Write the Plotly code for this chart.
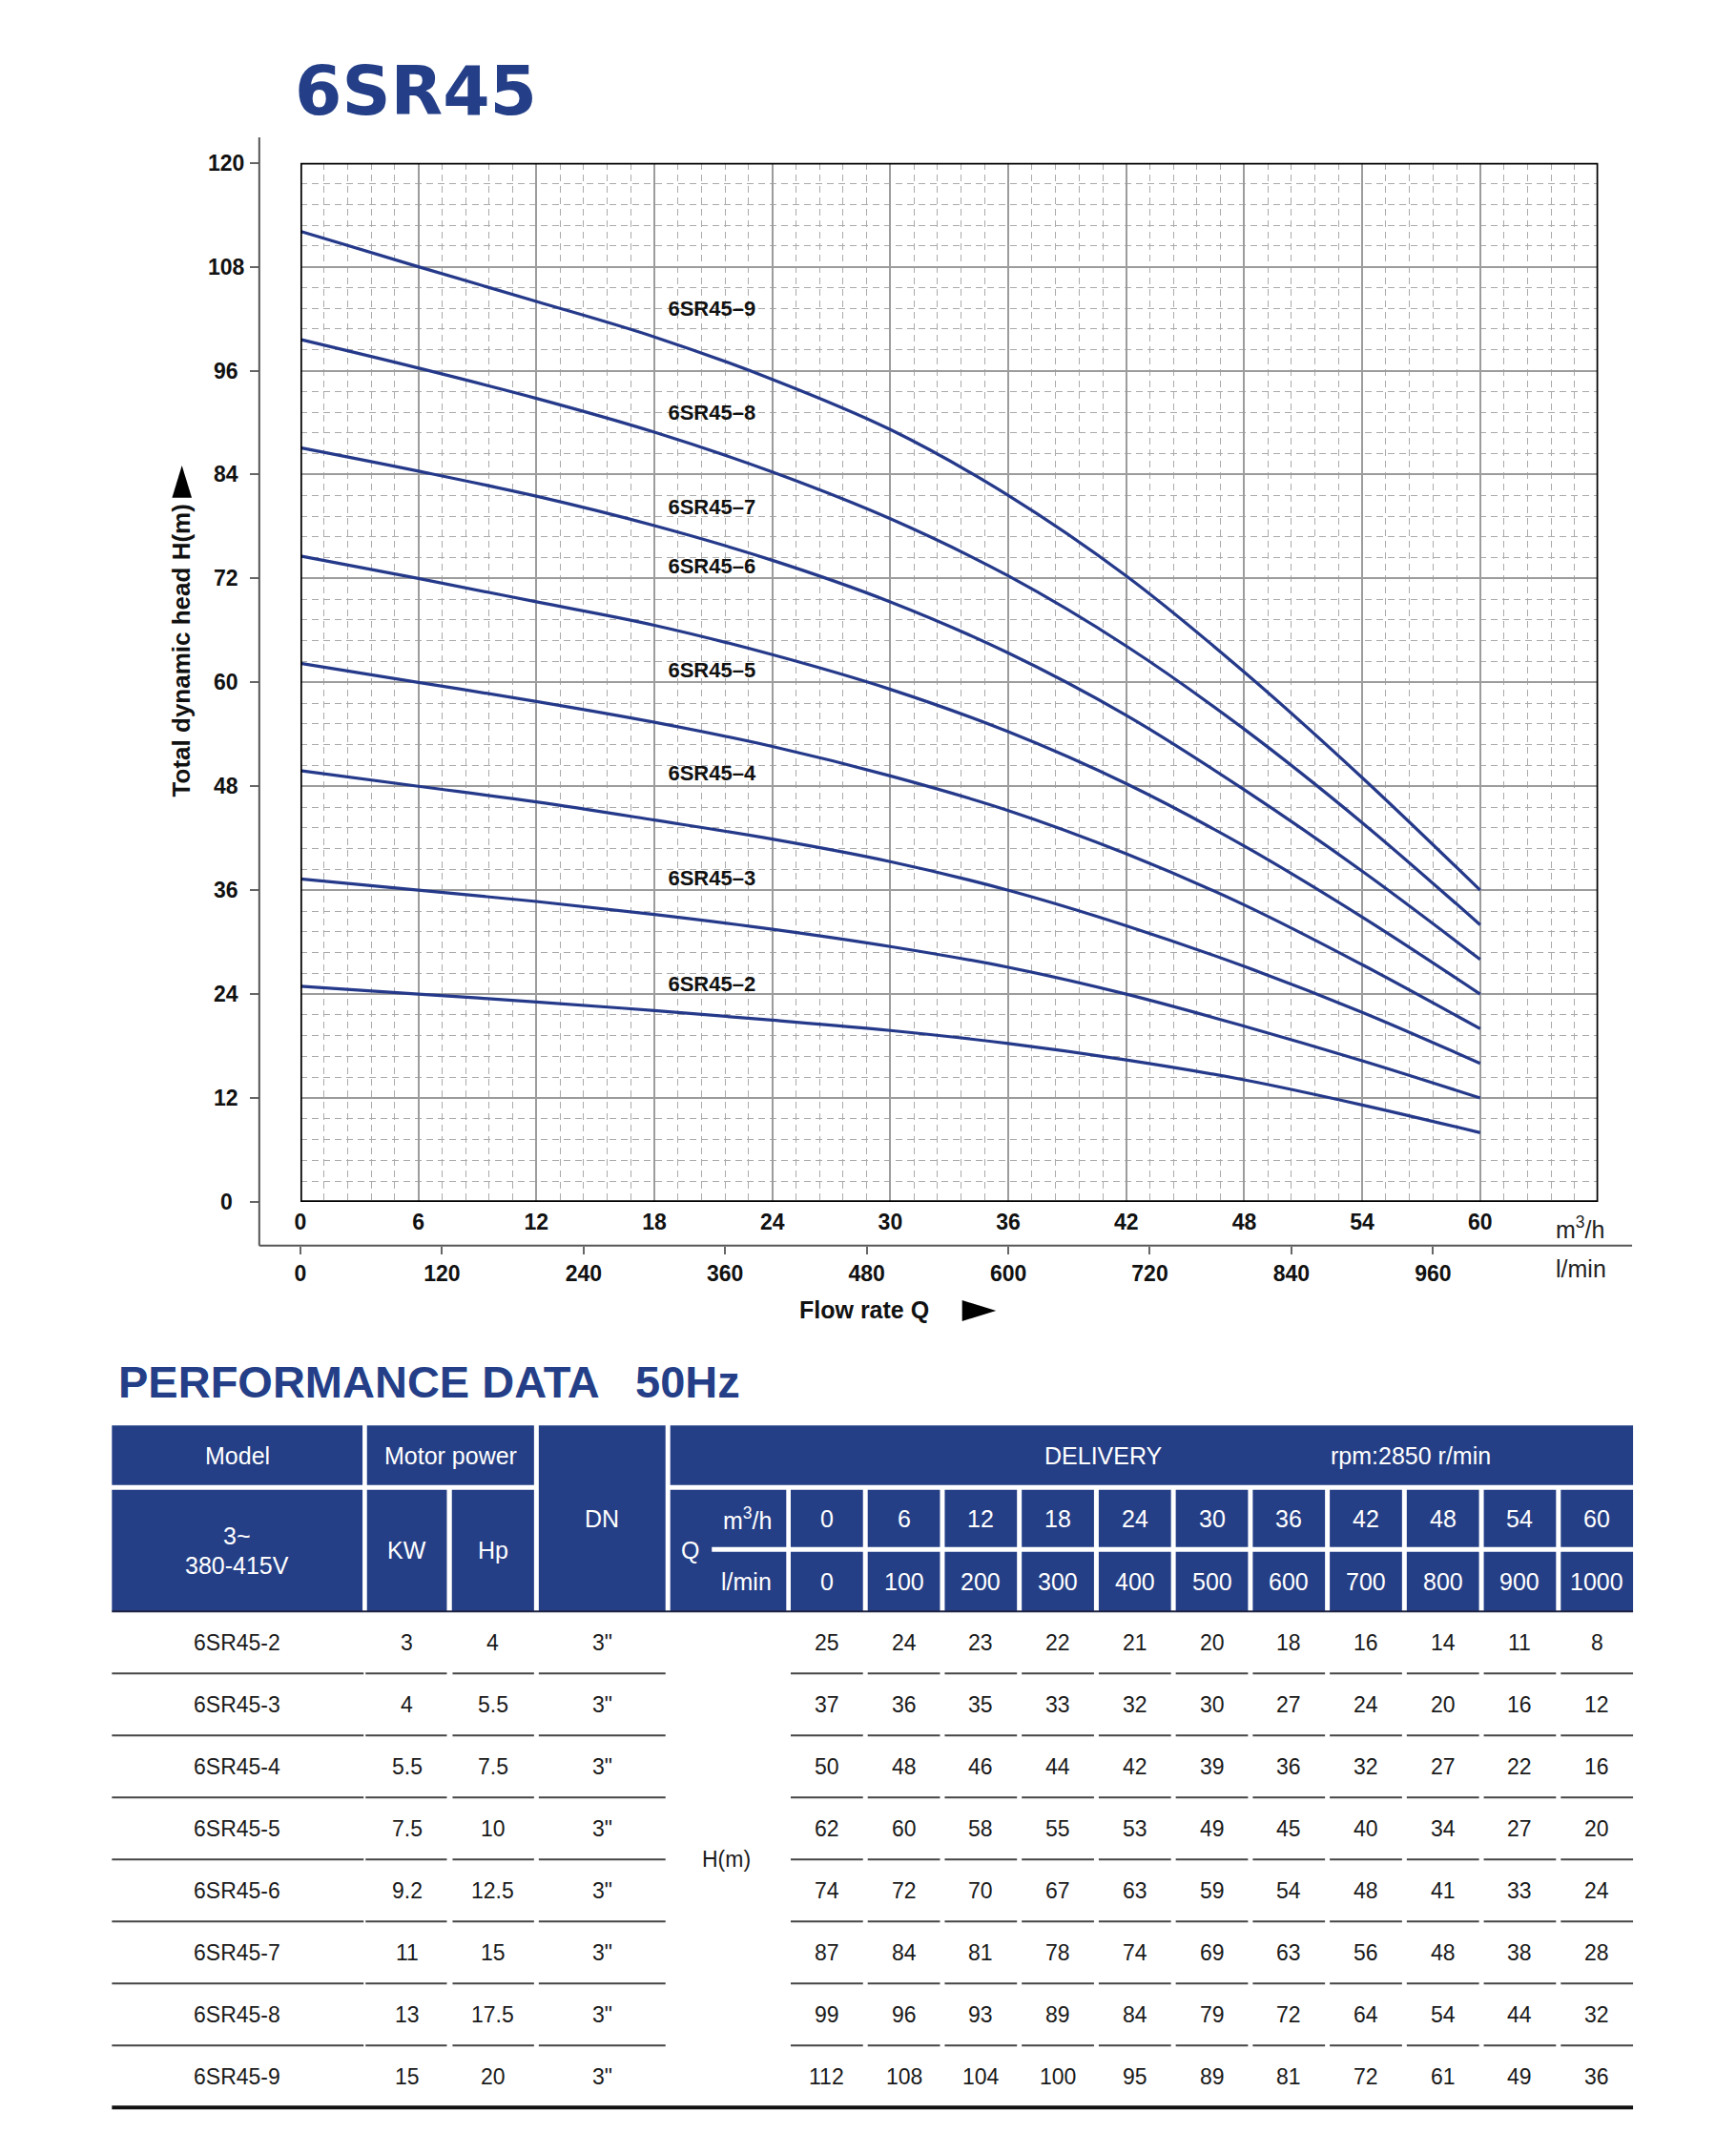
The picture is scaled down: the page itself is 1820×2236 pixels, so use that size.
"""
6SR45 pump performance curves with the 50Hz performance data table.
"""
import plotly.graph_objects as go

W, H = 1820, 2236
NAVY = "#243f88"
CELL_BLUE = "#253f87"
CURVE = "#25398a"
FONT = "Liberation Sans, Arial, sans-serif"

# ---- data -------------------------------------------------------------
MODELS = ["6SR45-2", "6SR45-3", "6SR45-4", "6SR45-5",
          "6SR45-6", "6SR45-7", "6SR45-8", "6SR45-9"]
KW = ["3", "4", "5.5", "7.5", "9.2", "11", "13", "15"]
HP = ["4", "5.5", "7.5", "10", "12.5", "15", "17.5", "20"]
DN = ['3"'] * 8
Q_M3H = [0, 6, 12, 18, 24, 30, 36, 42, 48, 54, 60]
Q_LMIN = [0, 100, 200, 300, 400, 500, 600, 700, 800, 900, 1000]
# table values (as printed)
HEAD = [
    [25, 24, 23, 22, 21, 20, 18, 16, 14, 11, 8],
    [37, 36, 35, 33, 32, 30, 27, 24, 20, 16, 12],
    [50, 48, 46, 44, 42, 39, 36, 32, 27, 22, 16],
    [62, 60, 58, 55, 53, 49, 45, 40, 34, 27, 20],
    [74, 72, 70, 67, 63, 59, 54, 48, 41, 33, 24],
    [87, 84, 81, 78, 74, 69, 63, 56, 48, 38, 28],
    [99, 96, 93, 89, 84, 79, 72, 64, 54, 44, 32],
    [112, 108, 104, 100, 95, 89, 81, 72, 61, 49, 36],
]
# curve heads (finer than the rounded table)
CURVE_HEAD = [
    [24.9, 24.0, 23.1, 22.1, 21.0, 19.8, 18.3, 16.4, 14.1, 11.2, 8.0],
    [37.3, 36.0, 34.7, 33.2, 31.5, 29.5, 27.1, 24.0, 20.3, 16.3, 12.0],
    [49.8, 48.0, 46.2, 44.1, 41.9, 39.3, 36.0, 31.9, 27.2, 21.9, 16.0],
    [62.2, 60.0, 57.8, 55.4, 52.6, 49.2, 45.2, 40.2, 34.3, 27.4, 20.0],
    [74.6, 72.0, 69.3, 66.6, 63.2, 59.2, 54.3, 48.3, 41.1, 32.9, 24.0],
    [87.1, 84.4, 81.5, 78.1, 74.1, 69.3, 63.4, 56.2, 47.6, 38.2, 28.0],
    [99.6, 96.3, 92.8, 88.9, 84.3, 78.9, 72.3, 64.2, 54.6, 43.8, 32.0],
    [112.1, 108.0, 104.0, 99.9, 95.0, 89.2, 81.6, 72.3, 61.2, 49.0, 36.0],
]
CURVE_LABELS = ["6SR45–2", "6SR45–3", "6SR45–4", "6SR45–5",
                "6SR45–6", "6SR45–7", "6SR45–8", "6SR45–9"]
LABEL_Y = [25.0, 37.2, 49.3, 61.2, 73.2, 80.0, 90.9, 103.0]
X_TICKS = [0, 6, 12, 18, 24, 30, 36, 42, 48, 54, 60]
Y_TICKS = [0, 12, 24, 36, 48, 60, 72, 84, 96, 108, 120]
LMIN_TICKS = [0, 120, 240, 360, 480, 600, 720, 840, 960]


def px(x):
    return x / W


def py(y):
    return 1 - y / H


shapes = []
annotations = []


def rect(x0, y0, x1, y1, fill):
    shapes.append(dict(type="rect", xref="paper", yref="paper",
                       x0=px(x0), x1=px(x1), y0=py(y0), y1=py(y1),
                       fillcolor=fill, line=dict(width=0), layer="above"))


def hline(x0, x1, y, color, width):
    shapes.append(dict(type="line", xref="paper", yref="paper",
                       x0=px(x0), x1=px(x1), y0=py(y), y1=py(y),
                       line=dict(color=color, width=width), layer="above"))


def text(x, y, s, size, color="#1a1a1a", anchor="center", bold=False, family=FONT):
    annotations.append(dict(xref="paper", yref="paper", x=px(x), y=py(y), text=s,
                            showarrow=False, xanchor=anchor, yanchor="middle",
                            font=dict(family=family, size=size, color=color,
                                      weight="bold" if bold else "normal")))


fig = go.Figure()

for name, heads in zip(MODELS, CURVE_HEAD):
    fig.add_trace(go.Scatter(x=Q_M3H, y=heads, mode="lines", name=name,
                             line=dict(color=CURVE, width=3.2, shape="spline", smoothing=1.0),
                             hoverinfo="x+y+name", showlegend=False))

fig.add_trace(go.Scatter(x=[18.7] * len(CURVE_LABELS), y=LABEL_Y, text=CURVE_LABELS,
                         mode="text", textposition="middle right",
                         textfont=dict(family=FONT, size=22, color="#111", weight="bold"),
                         hoverinfo="skip", showlegend=False))

# invisible trace so the l/min axis gets drawn
fig.add_trace(go.Scatter(x=[0], y=[0], xaxis="x2", yaxis="y", mode="markers",
                         marker=dict(opacity=0), hoverinfo="skip", showlegend=False))

# plot frame
shapes.append(dict(type="rect", xref="x", yref="y", x0=0, x1=66, y0=0, y1=120,
                   line=dict(color="#000", width=3.5), layer="above"))

# outer axis lines
shapes.append(dict(type="line", xref="paper", yref="paper", x0=px(266.7), x1=px(266.7),
                   y0=py(144), y1=py(1305.7), line=dict(color="#555", width=2)))
hline(266.7, 1710.7, 1305.7, "#555", 2)

# y tick labels (centred like the original)
for v in Y_TICKS:
    annotations.append(dict(xref="paper", yref="y", x=px(232), y=v, text=str(v),
                            showarrow=False, xanchor="center", yanchor="middle",
                            font=dict(family=FONT, size=23, color="#111", weight="bold")))

# axis titles and arrows
annotations.append(dict(xref="paper", yref="paper", x=px(185), y=py(682),
                        text="Total dynamic head H(m)", textangle=-90, showarrow=False,
                        xanchor="center", yanchor="middle",
                        font=dict(family=FONT, size=26, color="#111", weight="bold")))
shapes.append(dict(type="path", xref="paper", yref="paper",
                   path=f"M {px(175)} {py(521.7)} L {px(195.7)} {py(521.7)} L {px(185.3)} {py(488)} Z",
                   fillcolor="#000", line=dict(width=0)))
text(833, 1373, "Flow rate Q", 25, "#111", anchor="left", bold=True)
shapes.append(dict(type="path", xref="paper", yref="paper",
                   path=f"M {px(1006)} {py(1363)} L {px(1006)} {py(1385)} L {px(1041.7)} {py(1374)} Z",
                   fillcolor="#000", line=dict(width=0)))
text(1656, 1287, "m<sup>3</sup>/h", 25, "#222")
text(1657, 1330, "l/min", 25, "#222")

# titles
text(302, 96, "6SR45", 71, NAVY, anchor="left", bold=True, family="DejaVu Sans, sans-serif")
text(116, 1448, "PERFORMANCE DATA", 47, NAVY, anchor="left", bold=True)
text(660, 1448, "50Hz", 47, NAVY, anchor="left", bold=True)

# ---- table header ------------------------------------------------------
T_TOP, R1_BOT, R2_TOP, R2_BOT, R3_TOP, HDR_BOT = 1494.3, 1556.7, 1561.7, 1621.7, 1626.7, 1689.3
COL0, PITCH, CW = 825.7, 81, 76
ROW_H = 65

rect(111.7, T_TOP, 375.3, R1_BOT, CELL_BLUE)
rect(380, T_TOP, 555.7, R1_BOT, CELL_BLUE)
rect(560.7, T_TOP, 694, HDR_BOT, CELL_BLUE)
rect(699, T_TOP, 1711.7, R1_BOT, CELL_BLUE)
rect(111.7, R2_TOP, 375.3, HDR_BOT, CELL_BLUE)
rect(380, R2_TOP, 464, HDR_BOT, CELL_BLUE)
rect(469.3, R2_TOP, 555.7, HDR_BOT, CELL_BLUE)
rect(699, R2_TOP, 821, HDR_BOT, CELL_BLUE)
rect(742.7, R2_BOT, 825.7, R3_TOP, "#ffffff")
for i in range(len(Q_M3H)):
    x0 = COL0 + PITCH * i
    rect(x0, R2_TOP, x0 + CW, R2_BOT, CELL_BLUE)
    rect(x0, R3_TOP, x0 + CW, HDR_BOT, CELL_BLUE)
hline(111.7, 1711.7, HDR_BOT, "#1c2240", 2)

text(243.5, 1525.5, "Model", 25, "white")
text(468, 1525.5, "Motor power", 25, "white")
text(627.3, 1592, "DN", 25, "white")
text(1154.6, 1525.5, "DELIVERY", 25, "white")
text(1478, 1525.5, "rpm:2850 r/min", 25, "white")
text(243.5, 1610, "3~", 25, "white")
text(243.5, 1641, "380-415V", 25, "white")
text(422, 1625, "KW", 25, "white")
text(512.5, 1625, "Hp", 25, "white")
text(720, 1625, "Q", 25, "white")
text(808, 1592, "m<sup>3</sup>/h", 25, "white", anchor="right")
text(808, 1658, "l/min", 25, "white", anchor="right")
for i, (qm, ql) in enumerate(zip(Q_M3H, Q_LMIN)):
    cx = COL0 + PITCH * i + CW / 2
    text(cx, 1592, str(qm), 25, "white")
    text(cx, 1658, str(ql), 25, "white")

# ---- table body --------------------------------------------------------
for r in range(len(MODELS)):
    cy = HDR_BOT + ROW_H * (r + 0.5)
    text(243.5, cy, MODELS[r], 23)
    text(422, cy, KW[r], 23)
    text(512.5, cy, HP[r], 23)
    text(627.3, cy, DN[r], 23)
    for i, h in enumerate(HEAD[r]):
        text(COL0 + PITCH * i + CW / 2, cy, str(h), 23)
    yb = HDR_BOT + ROW_H * (r + 1)
    if r < len(MODELS) - 1:
        for a, b in [(111.7, 376.5), (378.5, 464), (470, 555.7), (560.7, 694)]:
            hline(a, b, yb, "#444", 2)
        for i in range(len(Q_M3H)):
            x0 = COL0 + PITCH * i
            hline(x0, x0 + CW, yb, "#444", 2)
    else:
        hline(111.7, 1711.7, yb, "#111", 4)
text(758, HDR_BOT + ROW_H * 4, "H(m)", 23)

# ---- layout ------------------------------------------------------------
grid_major = dict(gridcolor="#9c9c9c", gridwidth=1.5)
fig.update_layout(
    width=W, height=H, autosize=False,
    margin=dict(l=0, r=0, t=0, b=0),
    paper_bgcolor="white", plot_bgcolor="white",
    font=dict(family=FONT, color="#111"),
    xaxis=dict(domain=[px(310), px(1675)], range=[0, 66], tickmode="array",
               tickvals=X_TICKS, ticks="", showline=False, zeroline=False,
               showgrid=True, **grid_major,
               tickfont=dict(family=FONT, size=23, color="#111", weight="bold"),
               ticklabelstandoff=5,
               minor=dict(tickmode="linear", tick0=0, dtick=1.2, showgrid=True,
                          gridcolor="#aaaaaa", gridwidth=1, griddash="7px,5px")),
    xaxis2=dict(overlaying="x", anchor="free", position=py(1305.7), side="bottom",
                range=[0, 1100], tickmode="array", tickvals=LMIN_TICKS,
                ticks="outside", ticklen=8, tickwidth=1.5, tickcolor="#666",
                showgrid=False, showline=False, zeroline=False,
                tickfont=dict(family=FONT, size=23, color="#111", weight="bold"),
                ticklabelstandoff=1),
    yaxis=dict(domain=[py(1260), py(170.7)], range=[0, 120], tickmode="array",
               tickvals=Y_TICKS, anchor="free", position=px(266.7),
               ticks="outside", ticklen=10, tickwidth=1.5, tickcolor="#666",
               showticklabels=False, showline=False, zeroline=False,
               showgrid=True, **grid_major,
               minor=dict(tickmode="linear", tick0=0, dtick=2.4, showgrid=True,
                          gridcolor="#aaaaaa", gridwidth=1, griddash="7px,5px")),
    shapes=shapes,
    annotations=annotations,
)

# drop the browser's default page margin so the figure sits at the window's origin
fig.write_html("out.html", config={"displayModeBar": False},
               post_script="document.body.style.margin = '0';")
